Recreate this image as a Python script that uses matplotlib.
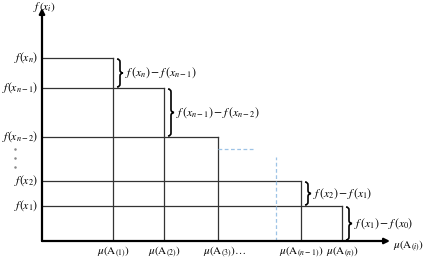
import matplotlib.pyplot as plt
from matplotlib.path import Path
from matplotlib.patches import PathPatch

plt.rcParams["mathtext.fontset"] = "stix"
plt.rcParams["font.family"] = ["Liberation Serif", "DejaVu Serif"]

# levels of f, from the top rectangle down (height above the x axis)
f_vals = [183, 153, 104, 60, 35]
f_labels = [r"$f(x_n)$", r"$f(x_{n-1})$", r"$f(x_{n-2})$", r"$f(x_2)$", r"$f(x_1)$"]
# mu positions, left to right
mu_vals = [71, 122, 176, 259, 300]
mu_labels = [r"$\mu(\mathrm{A}_{(1)})$", r"$\mu(\mathrm{A}_{(2)})$", r"$\mu(\mathrm{A}_{(3)})\ldots$",
             r"$\mu(\mathrm{A}_{(n-1)})$", r"$\mu(\mathrm{A}_{(n)})$"]
diff_labels = [r"$f\,(x_n) - f\,(x_{n-1})$", r"$f\,(x_{n-1}) - f\,(x_{n-2})$",
               None, r"$f\,(x_2) - f\,(x_1)$", r"$f\,(x_1) - f\,(x_0)$"]
dot_levels = [92, 83, 74]

W, H = 427, 259
ox, oy = 42, 241  # origin in pixels

fig = plt.figure(figsize=(W / 100, H / 100), dpi=100)
ax = fig.add_axes([ox / W, (H - oy) / H, 1 - ox / W, oy / H])
ax.set_xlim(0, W - ox)
ax.set_ylim(0, oy)
ax.axis("off")

line_kw = dict(color="#333333", lw=0.9)


def brace(ax, x, y0, y1, w=6):
    ym = (y0 + y1) / 2
    q = min(3, (y1 - y0) / 4)
    h = x + w / 2
    verts = [(x, y1), (h, y1), (h, y1 - q), (h, ym + q), (h, ym), (x + w, ym),
             (h, ym), (h, ym - q), (h, y0 + q), (h, y0), (x, y0)]
    codes = [Path.MOVETO, Path.CURVE3, Path.CURVE3, Path.LINETO, Path.CURVE3, Path.CURVE3,
             Path.CURVE3, Path.CURVE3, Path.LINETO, Path.CURVE3, Path.CURVE3]
    ax.add_patch(PathPatch(Path(verts, codes), fill=False, color="black", lw=1.2,
                           clip_on=False))


lowers = f_vals[1:] + [0]
for f, lab, mu, lo, dl in zip(f_vals, f_labels, mu_vals, lowers, diff_labels):
    ax.plot([0, mu], [f, f], **line_kw)
    ax.plot([mu, mu], [0, f], **line_kw)
    ax.text(-4, f, lab, ha="right", va="center", fontsize=8.5)
    if dl is not None:
        brace(ax, mu + 4, lo + 1, f - 1)
        ax.text(mu + 12, (lo + f) / 2, dl, ha="left", va="center", fontsize=8.5)

for mu, lab in zip(mu_vals, mu_labels):
    xc = mu + 7 if lab.endswith(r"\ldots$") else mu
    ax.text(xc, -11, lab, ha="center", va="center", fontsize=8, clip_on=False)

# vertical dots between f(x_{n-2}) and f(x_2)
ax.plot([-27] * len(dot_levels), dot_levels, ls="none", marker="o", ms=0.8,
        color="#888888", clip_on=False)

# dashed continuation hints
ax.plot([mu_vals[2], mu_vals[2] + 35], [92, 92], color="#9dc3e6", lw=0.9, ls=(0, (3, 2)))
ax.plot([234, 234], [0, 84], color="#9dc3e6", lw=0.9, ls=(0, (3, 2)))

# axes with arrows
ax.annotate("", xy=(0, 233), xytext=(0, 0),
            arrowprops=dict(arrowstyle="-|>", color="black", lw=1.6, mutation_scale=8,
                            shrinkA=0, shrinkB=0), annotation_clip=False)
ax.annotate("", xy=(348, 0), xytext=(0, 0),
            arrowprops=dict(arrowstyle="-|>", color="black", lw=1.6, mutation_scale=8,
                            shrinkA=0, shrinkB=0), annotation_clip=False)
ax.text(2, 241, r"$f\,(x_i)$", ha="center", va="top", fontsize=8, clip_on=False)
ax.text(351, -5, r"$\mu(\mathrm{A}_{(i)})$", ha="left", va="center", fontsize=8,
        clip_on=False)

fig.savefig("out.png", dpi=100)
